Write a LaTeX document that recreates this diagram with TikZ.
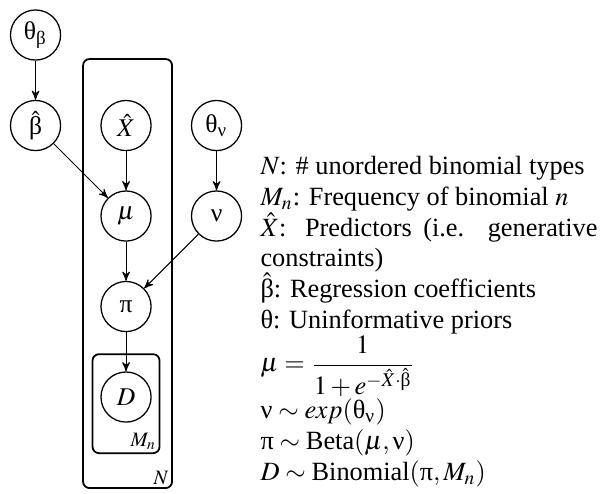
\documentclass[tikz,border=0pt]{standalone}
\usepackage{amsmath}
\usepackage{mathptmx}
\usepackage[no-math]{fontspec}
\setmainfont{Liberation Serif}
\usetikzlibrary{arrows,positioning}

\begin{document}
\begin{tikzpicture}[->,>=stealth',auto,node distance=35.4pt,thin,
                    latent/.style={circle,draw,line width=0.5pt,minimum size=19.6pt,inner sep=0pt},
                    plate/.style={draw,rounded corners=2.5pt,line width=0.7pt},
                    platelabel/.style={font=\footnotesize,inner sep=1.5pt}]

  \useasboundingbox (0,0) rectangle (234.7pt,-192.9pt);

  \node[latent]  (tb) at (13.9pt,-13.7pt) {$\text{θ}_{\text{β}}$};
  \node[latent]  (bh) [below of=tb]       {$\hat{\text{β}}$};
  \node[latent]  (xh) [right of=bh]       {$\hat{X}$};
  \node[latent]  (tn) [right of=xh]       {$\text{θ}_{\text{ν}}$};
  \node[latent]  (mu) [below of=xh]       {$\mu$};
  \node[latent]  (nu) [below of=tn]       {ν};
  \node[latent]  (pi) [below of=mu]       {π};
  \node[latent]  (D)  [below of=pi]       {$D$};

  \node[plate,minimum width=34.8pt,minimum height=167.8pt] (plN) at (49.9pt,-107pt) {};
  \node[plate,minimum width=26.2pt,minimum height=38.7pt]  (plM) at ([yshift=-2.6pt]D) {};
  \node[platelabel,anchor=south east] (labN) at (plN.south east) {$N$};
  \node[platelabel,anchor=south east] (labM) at (plM.south east) {$M_n$};

  \path (tb) edge (bh)
        (bh) edge (mu)
        (xh) edge (mu)
        (tn) edge (nu)
        (mu) edge (pi)
        (nu) edge (pi)
        (pi) edge (D);

  \node[anchor=north west,text width=131.8pt,align=justify,inner sep=0pt,
        font=\fontsize{10.3}{12}\selectfont] (legend) at (101.7pt,-61pt)
    {$N$: \# unordered binomial types\\
     $M_n$: Frequency of binomial $n$\\
     $\hat{X}$: Predictors (i.e. generative constraints)\\
     $\hat{\text{β}}$: Regression coefficients\\
     θ: Uninformative priors\\
     $\mu = \dfrac{1}{1+e^{-\hat{X}\cdot\hat{\text{β}}}}$\\
     $\text{ν} \sim exp(\text{θ}_{\text{ν}})$\\
     $\text{π} \sim \text{Beta}(\mu,\text{ν})$\\
     $D \sim \text{Binomial}(\text{π},M_n)$};
\end{tikzpicture}
\end{document}
